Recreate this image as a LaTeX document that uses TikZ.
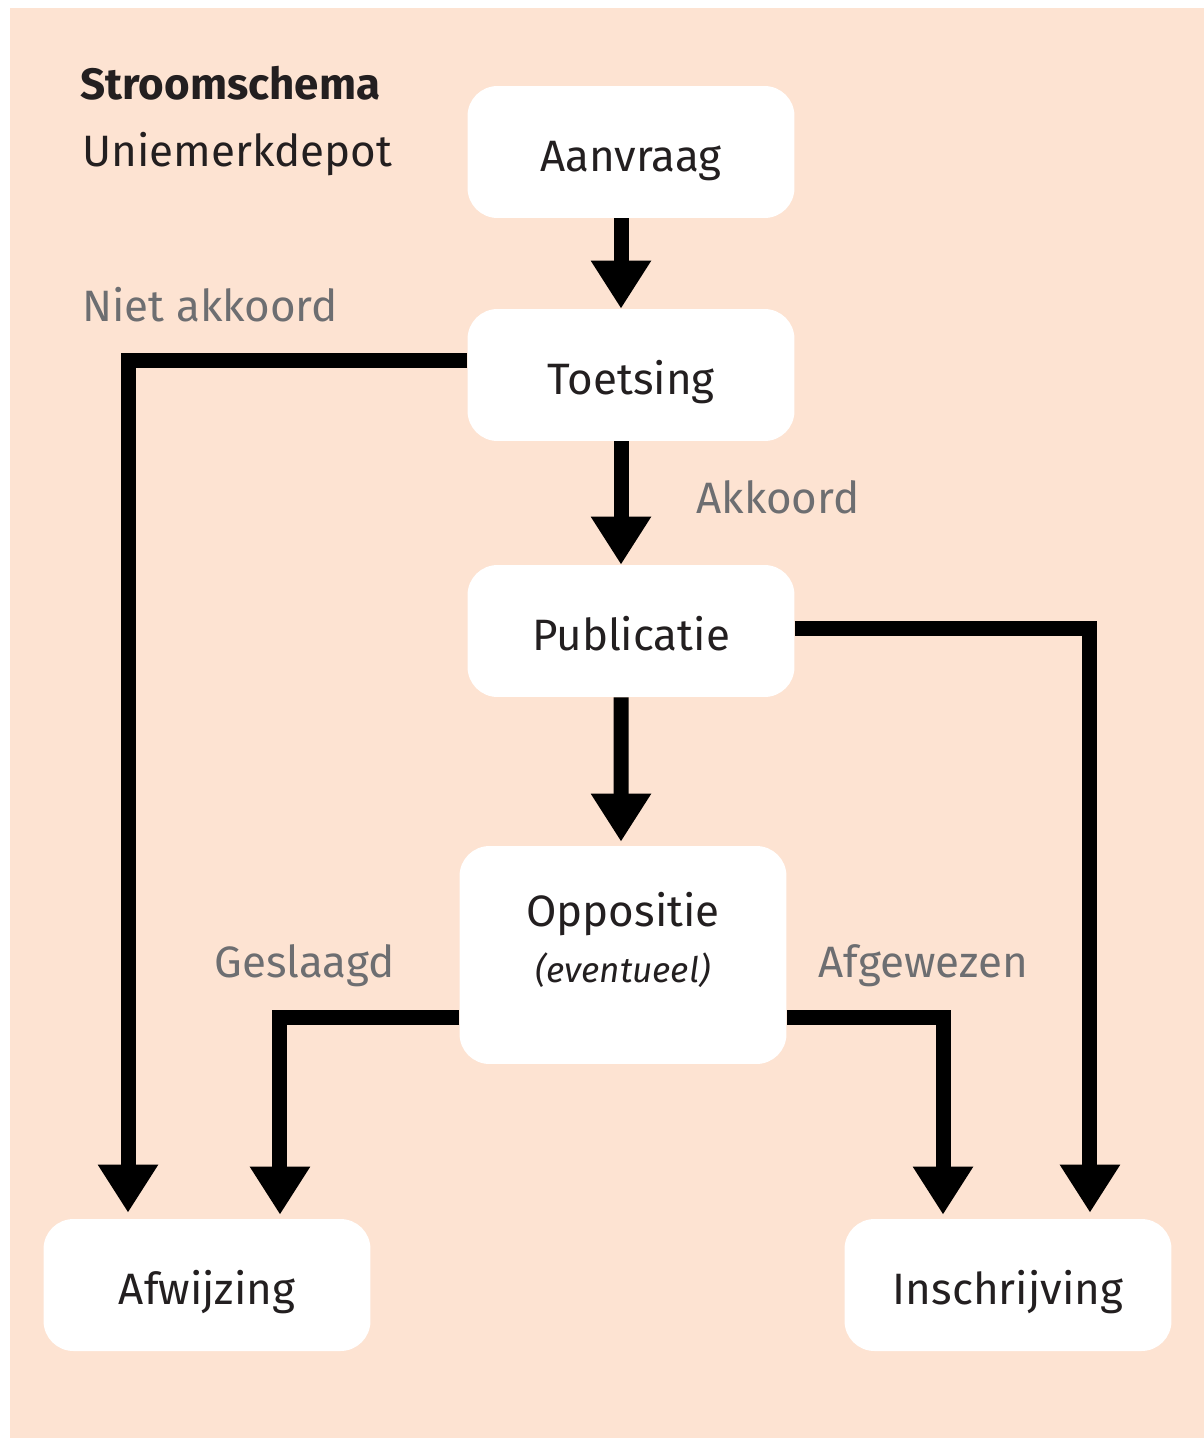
\documentclass[tikz,border=0pt]{standalone}
\usepackage{fontspec}
\setmainfont{Fira Sans}
\usetikzlibrary{arrows.meta, positioning}
\definecolor{peach}{RGB}{253,227,210}
\definecolor{inkdark}{RGB}{35,31,32}
\definecolor{inkgray}{RGB}{109,110,113}

\begin{document}
\begin{tikzpicture}
  [x=0.02cm, y=-0.02cm,
   kader/.style={rectangle, rounded corners=0.6cm, fill=white, text=inkdark,
     minimum width=6.54cm, minimum height=2.64cm, inner sep=0pt,
     font=\fontsize{25}{32}\selectfont},
   stap/.style={kader, text height=0.76cm, text depth=0pt},
   uitleg/.style={anchor=base west, inner sep=0pt, text=inkgray,
     font=\fontsize{25}{32}\selectfont},
   flow/.style={line width=0.3cm, line join=miter,
     -{Triangle[width=1.14cm, length=0.96cm]}}]
  \useasboundingbox (0, 0) rectangle (1204, 1438);
  \fill [peach] (10, 8) rectangle (1204, 1438);

  \node (titel) at (80, 99) [uitleg, text=inkdark] {\textbf{Stroomschema}};
  \node (depot) at (82, 166) [uitleg, text=inkdark] {Uniemerkdepot};

  \node (aanvraag) at (631, 152) [stap] {Aanvraag};
  \node (toetsing) at (631, 375) [stap] {Toetsing};
  \node (publicatie) at (631, 631) [stap] {Publicatie};
  \node (oppositie) at (623, 955) [kader, minimum height=4.36cm, align=center]
    {Oppositie\\{\fontsize{20}{24}\selectfont\itshape (eventueel)}\\[-12pt]\mbox{}};
  \node (afwijzing) at (207, 1285) [stap] {Afwijzing};
  \node (inschrijving) at (1008, 1285) [stap] {Inschrijving};

  \node (nietakkoord) at (82, 321) [uitleg] {Niet akkoord};
  \node (akkoord) at (696, 513) [uitleg] {Akkoord};
  \node (geslaagd) at (214, 977) [uitleg] {Geslaagd};
  \node (afgewezen) at (818, 977) [uitleg] {Afgewezen};

  \draw [flow] ([xshift=-0.2cm]aanvraag.south) to ([xshift=-0.2cm]toetsing.north);
  \draw [flow] ([xshift=-0.2cm]toetsing.south) to ([xshift=-0.2cm]publicatie.north);
  \draw [flow] ([xshift=-0.2cm]publicatie.south) to ([xshift=-0.04cm, yshift=0.08cm]oppositie.north);
  \draw [flow] ([yshift=0.3cm]toetsing.west) -| ([xshift=-1.58cm, yshift=0.12cm]afwijzing.north);
  \draw [flow] ([yshift=0.06cm]publicatie.east) -| ([xshift=1.64cm, yshift=0.12cm]inschrijving.north);
  \draw [flow] ([yshift=-1.24cm]oppositie.west) -| ([xshift=1.46cm, yshift=0.08cm]afwijzing.north);
  \draw [flow] ([yshift=-1.24cm]oppositie.east) -| ([xshift=-1.3cm, yshift=0.08cm]inschrijving.north);
\end{tikzpicture}
\end{document}
